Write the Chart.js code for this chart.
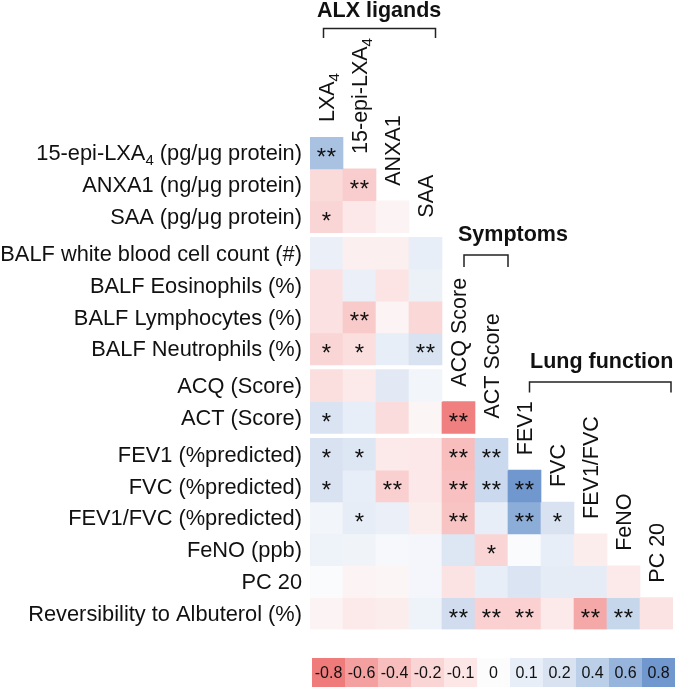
<!DOCTYPE html>
<html><head><meta charset="utf-8">
<script src="https://cdn.jsdelivr.net/npm/chart.js@4/dist/chart.umd.min.js"></script>
<style>html,body{margin:0;padding:0;background:#fff;} canvas{display:block;}</style>
</head><body>
<canvas id="c" width="676" height="687"></canvas>
<script>
// ---------- DATA ----------
const colLabels = ['LXA₄','15-epi-LXA₄','ANXA1','SAA','ACQ Score','ACT Score','FEV1','FVC','FEV1/FVC','FeNO','PC 20'];
const rowLabels = ['15-epi-LXA₄ (pg/μg protein)','ANXA1 (ng/μg protein)','SAA (pg/μg protein)',
  'BALF white blood cell count (#)','BALF Eosinophils (%)','BALF Lymphocytes (%)','BALF Neutrophils (%)',
  'ACQ (Score)','ACT (Score)','FEV1 (%predicted)','FVC (%predicted)','FEV1/FVC (%predicted)',
  'FeNO (ppb)','PC 20','Reversibility to Albuterol (%)'];
const rowGroups = [0,0,0,1,1,1,1,2,2,3,3,3,3,3,3];
const groupTitles = ['ALX ligands','Symptoms','Lung function'];
const colDiagRow = [-1,0,1,2,7,8,9,10,11,12,13];

// correlation values per row (columns from LXA4 onward)
const v_15epi = [0.50];
const v_anxa1 = [-0.17,-0.27];
const v_saa   = [-0.20,-0.09,-0.04];
const v_wbc   = [0.09,-0.06,-0.06,0.10];
const v_eos   = [-0.13,0.09,-0.11,0.08];
const v_lym   = [-0.13,-0.30,-0.04,-0.18];
const v_neu   = [-0.20,-0.15,0.10,0.20];
const v_acq   = [-0.15,-0.08,0.14,0.05];
const v_act   = [0.19,0.10,-0.16,-0.03,-0.78];
const v_fev1  = [0.20,0.17,-0.08,-0.09,-0.40,0.30];
const v_fvc   = [0.20,0.10,-0.25,-0.09,-0.38,0.30,0.82];
const v_ratio = [0.05,0.11,0.09,-0.07,-0.36,0.10,0.65,0.20];
const v_feno  = [0.07,0.06,0.03,0.04,0.17,-0.20,0.01,0.10,-0.07];
const v_pc20  = [0.01,-0.04,-0.03,0.04,-0.12,0.10,0.18,0.12,0.12,-0.08];
const v_rev   = [-0.04,-0.08,-0.07,0.07,0.25,-0.24,-0.24,-0.08,-0.55,0.33,-0.12];
const rowValues = [v_15epi,v_anxa1,v_saa,v_wbc,v_eos,v_lym,v_neu,v_acq,v_act,v_fev1,v_fvc,v_ratio,v_feno,v_pc20,v_rev];

// significance marks per row
const s_15epi = ['**'];
const s_anxa1 = ['','**'];
const s_saa   = ['*','',''];
const s_wbc   = ['','','',''];
const s_eos   = ['','','',''];
const s_lym   = ['','**','',''];
const s_neu   = ['*','*','','**'];
const s_acq   = ['','','',''];
const s_act   = ['*','','','','**'];
const s_fev1  = ['*','*','','','**','**'];
const s_fvc   = ['*','','**','','**','**','**'];
const s_ratio = ['','*','','','**','','**','*'];
const s_feno  = ['','','','','','*','','',''];
const s_pc20  = ['','','','','','','','','',''];
const s_rev   = ['','','','','**','**','**','','**','**',''];
const rowStars = [s_15epi,s_anxa1,s_saa,s_wbc,s_eos,s_lym,s_neu,s_acq,s_act,s_fev1,s_fvc,s_ratio,s_feno,s_pc20,s_rev];

const legendValues = [-0.8,-0.6,-0.4,-0.2,-0.1,0,0.1,0.2,0.4,0.6,0.8];
const legendLabels = ['-0.8','-0.6','-0.4','-0.2','-0.1','0','0.1','0.2','0.4','0.6','0.8'];

// ---------- STYLE ----------
const palette = [[239,123,123],[244,160,160],[248,190,190],[250,213,213],[252,230,230],[252,252,253],
                 [232,238,247],[216,226,241],[188,207,232],[151,180,220],[112,151,206]];
const FONT = "'Liberation Sans', Arial, Helvetica, sans-serif";
const GAP = 0.15;
function pos(r){ return r + GAP * (r < 0 ? 0 : rowGroups[r]); }
function colorFor(v){
  const s = legendValues;
  if (v <= s[0]) return 'rgb(' + palette[0].join(',') + ')';
  if (v >= s[s.length-1]) return 'rgb(' + palette[s.length-1].join(',') + ')';
  for (let i = 0; i < s.length-1; i++){
    if (v >= s[i] && v <= s[i+1]){
      const t = (v - s[i]) / (s[i+1] - s[i]);
      const c = palette[i].map((a,k) => Math.round(a + (palette[i+1][k]-a)*t));
      return 'rgb(' + c.join(',') + ')';
    }
  }
}

const datasets = rowLabels.map((lab, r) => ({
  label: lab,
  data: colLabels.map((_, c) => c < rowValues[r].length ? [pos(r)-0.5, pos(r)+0.5] : null),
  backgroundColor: colLabels.map((_, c) => c < rowValues[r].length ? colorFor(rowValues[r][c]) : 'rgba(0,0,0,0)'),
  borderWidth: 0,
  grouped: false,
  categoryPercentage: 1,
  barPercentage: 1
}));

function drawRich(ctx, text, x, y, size, weight, align){
  const parts = text.split('₄');
  const main = weight + ' ' + size + 'px ' + FONT;
  const sub = weight + ' ' + Math.round(size*0.68) + 'px ' + FONT;
  let w = 0;
  parts.forEach((p, i) => { ctx.font = main; w += ctx.measureText(p).width; if (i < parts.length-1){ ctx.font = sub; w += ctx.measureText('4').width; } });
  let cx = align === 'right' ? x - w : x;
  ctx.textAlign = 'left';
  ctx.textBaseline = 'alphabetic';
  parts.forEach((p, i) => {
    ctx.font = main; ctx.fillText(p, cx, y); cx += ctx.measureText(p).width;
    if (i < parts.length-1){ ctx.font = sub; ctx.fillText('4', cx, y + size*0.22); cx += ctx.measureText('4').width; }
  });
}

const decor = {
  id: 'decor',
  afterDraw(chart){
    const ctx = chart.ctx, xs = chart.scales.x, ys = chart.scales.y;
    const cw = xs.getPixelForValue(1) - xs.getPixelForValue(0);
    ctx.save();
    ctx.fillStyle = '#111';
    // stars
    ctx.font = '24px ' + FONT; ctx.textAlign = 'center'; ctx.textBaseline = 'alphabetic';
    rowStars.forEach((arr, r) => arr.forEach((s, c) => {
      if (!s) return;
      const cx = xs.getPixelForValue(c), cy = ys.getPixelForValue(pos(r)) + 12;
      if (s === '*') ctx.fillText('*', cx, cy);
      else { ctx.fillText('*', cx - 5, cy); ctx.fillText('*', cx + 5, cy); }
    }));
    // row labels
    rowLabels.forEach((lab, r) => {
      drawRich(ctx, lab, 302, ys.getPixelForValue(pos(r)) + 7.5, 21.8, 'normal', 'right');
    });
    // column labels
    colLabels.forEach((lab, c) => {
      const bx = xs.getPixelForValue(c) + 7.5;
      const by = ys.getPixelForValue(pos(colDiagRow[c])) + 1;
      ctx.save(); ctx.translate(bx, by); ctx.rotate(-Math.PI/2);
      drawRich(ctx, lab, 0, 0, 21.5, 'normal', 'left');
      ctx.restore();
    });
    // group titles + brackets
    const titles = [[317,17],[458,241],[530,368]];
    const brackets = [[323.5,435.5,28.5,38],[464,508,255,267],[529.5,671,382,392.5]];
    groupTitles.forEach((t, i) => {
      ctx.font = 'bold 21.5px ' + FONT; ctx.textAlign = 'left'; ctx.textBaseline = 'alphabetic';
      ctx.fillText(t, titles[i][0], titles[i][1]);
      const b = brackets[i];
      ctx.beginPath(); ctx.lineWidth = 1.5; ctx.strokeStyle = '#222';
      ctx.moveTo(b[0], b[3]); ctx.lineTo(b[0], b[2]); ctx.lineTo(b[1], b[2]); ctx.lineTo(b[1], b[3]);
      ctx.stroke();
    });
    // colour legend
    legendValues.forEach((v, i) => {
      const x0 = xs.getPixelForValue(i) - cw/2 + 2;
      ctx.fillStyle = colorFor(v);
      ctx.fillRect(x0, 658, cw, 30);
      ctx.fillStyle = '#111';
      ctx.font = '16px ' + FONT; ctx.textAlign = 'center'; ctx.textBaseline = 'middle';
      ctx.fillText(legendLabels[i], x0 + cw/2, 673.5);
    });
    ctx.restore();
  }
};

new Chart(document.getElementById('c'), {
  type: 'bar',
  data: { labels: colLabels, datasets },
  options: {
    responsive: false, animation: false, events: [],
    layout: { padding: { left: 310, right: 3, top: 137, bottom: 57.5 } },
    plugins: { legend: { display: false }, tooltip: { enabled: false } },
    scales: {
      x: { type: 'category', display: false, offset: true, grid: { display: false } },
      y: { type: 'linear', display: false, reverse: true, min: -0.5, max: pos(14) + 0.5 }
    }
  },
  plugins: [decor]
});
</script>
</body></html>
